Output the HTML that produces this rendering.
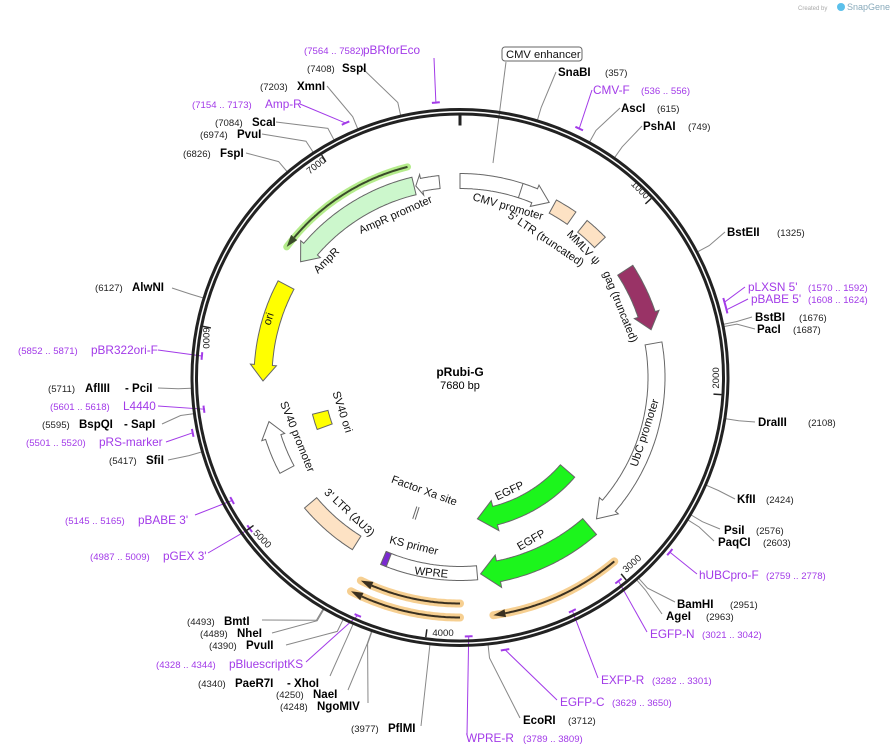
<!DOCTYPE html>
<html><head><meta charset="utf-8"><style>
html,body{margin:0;padding:0;background:#fff;}
svg{display:block;font-family:"Liberation Sans","DejaVu Sans",sans-serif;}
.n{font-size:9.6px;fill:#222;}
.b{font-size:11.5px;font-weight:bold;fill:#000;}
.p{font-size:11.8px;fill:#a23ae8;}
.pn{font-size:9.6px;fill:#a23ae8;}
.f{font-size:11.2px;fill:#111;}
</style></head><body>
<svg id="s" width="896" height="754" viewBox="0 0 896 754" xmlns="http://www.w3.org/2000/svg">
<g id="g"></g>
<circle cx="460" cy="377.5" r="268" fill="none" stroke="#222" stroke-width="3"/>
<circle cx="460" cy="377.5" r="263.5" fill="none" stroke="#222" stroke-width="3"/>
<g id="top"></g>
<text x="460" y="376" text-anchor="middle" style="font-size:12px;font-weight:bold">pRubi-G</text>
<text x="460" y="389" text-anchor="middle" style="font-size:11px">7680 bp</text>
<text x="798" y="10" style="font-size:6px;fill:#aaa">Created by</text>
<circle cx="841" cy="7" r="4" fill="#5bc0eb"/>
<text x="847" y="10" style="font-size:9px;fill:#8ab">SnapGene</text>

<text class="n" transform="translate(318,168) rotate(-38)" text-anchor="middle">7000</text>
<text class="n" transform="translate(638,192) rotate(45)" text-anchor="middle">1000</text>
<text class="n" transform="translate(719,378) rotate(-90)" text-anchor="middle">2000</text>
<text class="n" transform="translate(634,566) rotate(-42)" text-anchor="middle">3000</text>
<text class="n" x="443" y="636" text-anchor="middle">4000</text>
<text class="n" transform="translate(260,541) rotate(46)" text-anchor="middle">5000</text>
<text class="n" transform="translate(203,338) rotate(90)" text-anchor="middle">6000</text>

<text class="f" transform="translate(507,210) rotate(16)" text-anchor="middle">CMV promoter</text>
<text class="f" transform="translate(544,242) rotate(34)" text-anchor="middle">5' LTR (truncated)</text>
<text class="f" transform="translate(581,250) rotate(46)" text-anchor="middle">MMLV ψ</text>
<text class="f" transform="translate(617,308) rotate(68)" text-anchor="middle">gag (truncated)</text>
<text class="f" transform="translate(648,434) rotate(-72)" text-anchor="middle">UbC promoter</text>
<text class="f" transform="translate(511,494) rotate(-25)" text-anchor="middle">EGFP</text>
<text class="f" transform="translate(533,543) rotate(-30)" text-anchor="middle">EGFP</text>
<text class="f" transform="translate(431,576) rotate(6)" text-anchor="middle">WPRE</text>
<text class="f" transform="translate(413,549) rotate(14)" text-anchor="middle">KS primer</text>
<text class="f" transform="translate(423,494) rotate(20)" text-anchor="middle">Factor Xa site</text>
<text class="f" transform="translate(347,515) rotate(43)" text-anchor="middle">3' LTR (ΔU3)</text>
<text class="f" transform="translate(294,438) rotate(68)" text-anchor="middle">SV40 promoter</text>
<text class="f" transform="translate(339,413) rotate(72)" text-anchor="middle">SV40 ori</text>
<text class="f" transform="translate(272,320) rotate(-72)" text-anchor="middle">ori</text>
<text class="f" transform="translate(329,263) rotate(-45)" text-anchor="middle">AmpR</text>
<text class="f" transform="translate(397,218) rotate(-24)" text-anchor="middle">AmpR promoter</text>

<rect x="502" y="47" width="80" height="14" rx="3" fill="#fff" stroke="#666"/>
<text class="f" x="506" y="58">CMV enhancer</text>

<text class="pn" x="304" y="54">(7564 .. 7582)</text><text class="p" x="363" y="54">pBRforEco</text>
<text class="n" x="307" y="72">(7408)</text><text class="b" x="342" y="72">SspI</text>
<text class="n" x="260" y="90">(7203)</text><text class="b" x="297" y="90">XmnI</text>
<text class="pn" x="192" y="108">(7154 .. 7173)</text><text class="p" x="265" y="108">Amp-R</text>
<text class="n" x="215" y="126">(7084)</text><text class="b" x="252" y="126">ScaI</text>
<text class="n" x="200" y="138">(6974)</text><text class="b" x="237" y="138">PvuI</text>
<text class="n" x="183" y="157">(6826)</text><text class="b" x="220" y="157">FspI</text>
<text class="n" x="95" y="291">(6127)</text><text class="b" x="132" y="291">AlwNI</text>
<text class="pn" x="18" y="354">(5852 .. 5871)</text><text class="p" x="91" y="354">pBR322ori-F</text>
<text class="n" x="48" y="392">(5711)</text><text class="b" x="85" y="392">AflIII</text><text class="b" x="125" y="392">- PciI</text>
<text class="pn" x="50" y="410">(5601 .. 5618)</text><text class="p" x="123" y="410">L4440</text>
<text class="n" x="42" y="428">(5595)</text><text class="b" x="79" y="428">BspQI</text><text class="b" x="124" y="428">- SapI</text>
<text class="pn" x="26" y="446">(5501 .. 5520)</text><text class="p" x="99" y="446">pRS-marker</text>
<text class="n" x="109" y="464">(5417)</text><text class="b" x="146" y="464">SfiI</text>
<text class="pn" x="65" y="524">(5145 .. 5165)</text><text class="p" x="138" y="524">pBABE 3'</text>
<text class="pn" x="90" y="560">(4987 .. 5009)</text><text class="p" x="163" y="560">pGEX 3'</text>
<text class="n" x="187" y="625">(4493)</text><text class="b" x="224" y="625">BmtI</text>
<text class="n" x="200" y="637">(4489)</text><text class="b" x="237" y="637">NheI</text>
<text class="n" x="209" y="649">(4390)</text><text class="b" x="246" y="649">PvuII</text>
<text class="pn" x="156" y="668">(4328 .. 4344)</text><text class="p" x="229" y="668">pBluescriptKS</text>
<text class="n" x="198" y="687">(4340)</text><text class="b" x="235" y="687">PaeR7I</text><text class="b" x="287" y="687">- XhoI</text>
<text class="n" x="276" y="698">(4250)</text><text class="b" x="313" y="698">NaeI</text>
<text class="n" x="280" y="710">(4248)</text><text class="b" x="317" y="710">NgoMIV</text>
<text class="n" x="351" y="732">(3977)</text><text class="b" x="388" y="732">PflMI</text>
<text class="p" x="466" y="742">WPRE-R</text><text class="pn" x="523" y="742">(3789 .. 3809)</text>
<text class="b" x="523" y="724">EcoRI</text><text class="n" x="568" y="724">(3712)</text>
<text class="p" x="560" y="706">EGFP-C</text><text class="pn" x="612" y="706">(3629 .. 3650)</text>
<text class="p" x="601" y="684">EXFP-R</text><text class="pn" x="652" y="684">(3282 .. 3301)</text>
<text class="p" x="650" y="638">EGFP-N</text><text class="pn" x="702" y="638">(3021 .. 3042)</text>
<text class="b" x="666" y="620">AgeI</text><text class="n" x="706" y="620">(2963)</text>
<text class="b" x="677" y="608">BamHI</text><text class="n" x="730" y="608">(2951)</text>
<text class="p" x="699" y="579">hUBCpro-F</text><text class="pn" x="766" y="579">(2759 .. 2778)</text>
<text class="b" x="718" y="546">PaqCI</text><text class="n" x="763" y="546">(2603)</text>
<text class="b" x="724" y="534">PsiI</text><text class="n" x="756" y="534">(2576)</text>
<text class="b" x="737" y="503">KfII</text><text class="n" x="766" y="503">(2424)</text>
<text class="b" x="758" y="426">DraIII</text><text class="n" x="808" y="426">(2108)</text>
<text class="b" x="757" y="333">PacI</text><text class="n" x="793" y="333">(1687)</text>
<text class="b" x="755" y="321">BstBI</text><text class="n" x="799" y="321">(1676)</text>
<text class="p" x="751" y="303">pBABE 5'</text><text class="pn" x="808" y="303">(1608 .. 1624)</text>
<text class="p" x="748" y="291">pLXSN 5'</text><text class="pn" x="808" y="291">(1570 .. 1592)</text>
<text class="b" x="727" y="236">BstEII</text><text class="n" x="777" y="236">(1325)</text>
<text class="b" x="643" y="130">PshAI</text><text class="n" x="688" y="130">(749)</text>
<text class="b" x="621" y="112">AscI</text><text class="n" x="657" y="112">(615)</text>
<text class="p" x="593" y="94">CMV-F</text><text class="pn" x="641" y="94">(536 .. 556)</text>
<text class="b" x="558" y="76">SnaBI</text><text class="n" x="605" y="76">(357)</text>
</svg>
<script>
(function(){
var NS="http://www.w3.org/2000/svg",cx=460,cy=377.5,g=document.getElementById('g'),tp=document.getElementById('top');
function P(r,t){t=t*Math.PI/180;return [cx+r*Math.sin(t),cy-r*Math.cos(t)];}
function el(n,a,par){var e=document.createElementNS(NS,n);for(var k in a)e.setAttribute(k,a[k]);(par||g).appendChild(e);return e;}
function arcPts(r,t1,t2){var n=Math.max(2,Math.ceil(Math.abs(t2-t1)*2)),o=[];for(var i=0;i<=n;i++)o.push(P(r,t1+(t2-t1)*i/n));return o;}
function S(pts){return pts.map(function(p){return p[0].toFixed(1)+','+p[1].toFixed(1);}).join(' ');}
function feat(r1,r2,t1,t2,fill,head,fl){
  var pts;fl=fl||4;
  if(head){var dir=t2>t1?1:-1,hl=(head/((r1+r2)/2))*180/Math.PI,tb=t2-dir*hl,rm=(r1+r2)/2;
    pts=arcPts(r2,t1,tb).concat([P(r2+fl,tb),P(rm,t2),P(r1-fl,tb)]).concat(arcPts(r1,tb,t1));}
  else pts=arcPts(r2,t1,t2).concat(arcPts(r1,t2,t1));
  el('polygon',{points:S(pts),fill:fill,stroke:'#666','stroke-width':1});}
function prim(r,t1,t2){
  var pts=arcPts(r,t1,t2);
  el('polyline',{points:S(pts),fill:'none',stroke:'#f5c77e','stroke-width':8,'stroke-linecap':'round','stroke-opacity':0.85});
  var dir=t2>t1?1:-1,tb=t2-dir*12/r*180/Math.PI;
  el('polyline',{points:S(arcPts(r,t1,tb)),fill:'none',stroke:'#3a3020','stroke-width':2});
  el('polygon',{points:S([P(r+4,tb),P(r,t2),P(r-4,tb)]),fill:'#3a3020'});
}
function rad(r1,r2,t,c,w,par){var a=P(r1,t),b=P(r2,t);el('line',{x1:a[0],y1:a[1],x2:b[0],y2:b[1],stroke:c,'stroke-width':w},par);}
feat(189,204,0,27,'#fff',16);
rad(189,204,18,'#666',1);
feat(187,202,28.5,35,'#fde2c4');
feat(187,202,39,46,'#fde2c4');
feat(188,206,57,76,'#993366',16);
feat(188,205,80,136,'#fff',18);
feat(133,152,131,173,'#1cf51c',18,6);
feat(187,208,139,174,'#1cf51c',18,6);
prim(240,140,172);prim(226,180,206);prim(240,180,207);
feat(189,203,175,203,'#fff');
feat(189,203,201.3,203,'#7a2ad0');
rad(136,149,197.5,'#666',1);rad(136,149,198.5,'#666',1);
feat(187,203,212,230,'#fde2c4');
feat(188,204,242,257,'#fff',16);
feat(136,152,250,256,'#ffff00');
feat(188,206,298,269,'#ffff00',16);
(function(){var pts=arcPts(217,346,307);el('polyline',{points:S(pts),fill:'none',stroke:'#b5ec8c','stroke-width':7,'stroke-linecap':'round'});
 var tb=307+12/217*180/Math.PI;el('polyline',{points:S(arcPts(217,346,tb)),fill:'none',stroke:'#3a4a2a','stroke-width':2});
 el('polygon',{points:S([P(221,tb),P(217,307),P(213,tb)]),fill:'#3a4a2a'});})();
feat(188,206,346.5,306,'#ccf7cc',16);
feat(190,203,354,347,'#fff',6,4);
for(var k=1;k<8;k++)rad(254,262,k*1000*360/7680,'#222',1.5,tp);
rad(252,262,0,'#222',3,tp);
var L=[[7408,362,68],[7203,327,86],[7084,276,122],[6974,262,134],[6826,246,153],[6127,172,288],[5711,158,388],[5595,162,424],[5417,168,460],
[4493,262,620],[4489,272,633],[4390,286,645],[4340,330,676],[4250,348,690],[4248,368,703],[3977,421,726],
[3712,520,718],[2963,662,614],[2951,675,602],[2603,714,541],[2576,720,529],[2424,735,499],[2108,755,422],[1687,755,329],[1676,752,317],[1325,725,232],[749,642,126],[615,620,108],[357,556,72]];
L.forEach(function(l){var t=l[0]*360/7680,a=P(282,t),b=P(269,t);el('polyline',{points:S([[l[1],l[2]],a,b]),fill:'none',stroke:'#888','stroke-width':1});});
var PR=[[7564,7582,276,434,58],[7154,7173,279,300,104],[536,556,276,592,90],[1570,1592,275,745,287],[1608,1624,275,748,299],[2759,2778,273,697,574],
[3021,3042,258,647,632],[3282,3301,259,598,678],[3629,3650,276,557,700],[3789,3809,259,467,735],[4328,4344,259,306,662],[4987,5009,259,208,553],[5145,5165,259,195,515],[5501,5520,273,166,442],[5601,5618,258,158,406],[5852,5871,259,158,350]];
PR.forEach(function(p){var t1=p[0]*360/7680,t2=p[1]*360/7680,tm=(t1+t2)/2,a=P(p[2],tm);
 el('line',{x1:p[3],y1:p[4],x2:a[0],y2:a[1],stroke:'#a23ae8','stroke-width':1});
 el('polyline',{points:S(arcPts(p[2],t1-0.4,t2+0.4)),fill:'none',stroke:'#a23ae8','stroke-width':2});});
el('line',{x1:506,y1:62,x2:493,y2:163,stroke:'#888','stroke-width':1});
})();
</script>
</body></html>
